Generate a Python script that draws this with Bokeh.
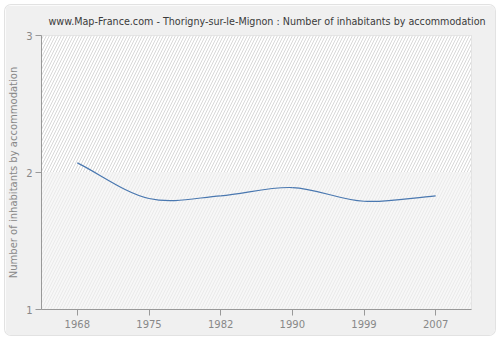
from bokeh.plotting import figure
from bokeh.models import FixedTicker, BoxAnnotation
from bokeh.embed import file_html
from bokeh.resources import INLINE

years = ["1968", "1975", "1982", "1990", "1999", "2007"]
values = [2.07, 1.81, 1.83, 1.89, 1.79, 1.83]
y_ticks = [1, 2, 3]

idx = list(range(len(years)))

p = figure(width=490, height=330, output_backend="svg", toolbar_location=None,
           x_range=(-0.5, len(years) - 0.5), y_range=(1, 3),
           min_border_left=30, min_border_right=24, min_border_top=30, min_border_bottom=26,
           margin=(5, 5, 5, 5))
p.styles = {"border-radius": "6px", "overflow": "hidden", "box-shadow": "0 0 0 1px #e2e2e2"}
p.border_fill_color = "#f0f0f0"
p.background_fill_color = "#fafafa"
p.outline_line_color = "#dddddd"

# background bands with hatch
p.add_layout(BoxAnnotation(bottom=2, top=3, fill_color="#ffffff", fill_alpha=1,
                           hatch_pattern="/", hatch_color="#d8d8d8", hatch_scale=6,
                           hatch_weight=1, line_color=None, level="underlay"))
p.add_layout(BoxAnnotation(bottom=1, top=2, fill_color="#f7f7f7", fill_alpha=1,
                           hatch_pattern="/", hatch_color="#eaeaea", hatch_scale=6,
                           hatch_weight=1, line_color=None, level="underlay"))

# title
p.title.text = "www.Map-France.com - Thorigny-sur-le-Mignon : Number of inhabitants by accommodation"
p.title.text_font = "DejaVu Sans"
p.title.text_font_size = "9.6px"
p.title.text_font_style = "normal"
p.title.text_color = "#3a3a3a"
p.title.align = "left"
p.title.offset = 7
p.title.standoff = 17

# grid
p.xgrid.ticker = FixedTicker(ticks=idx)
p.ygrid.ticker = FixedTicker(ticks=y_ticks)
for g in (p.xgrid, p.ygrid):
    g.grid_line_color = "#e2e2e2"
    g.grid_line_dash = "4 3"
    g.grid_line_width = 1

# axes
p.xaxis.ticker = FixedTicker(ticks=idx)
p.xaxis.major_label_overrides = {i: y for i, y in zip(idx, years)}
p.yaxis.ticker = FixedTicker(ticks=y_ticks)
p.yaxis.axis_label = "Number of inhabitants by accommodation"
for ax in (p.xaxis, p.yaxis):
    ax.axis_line_color = "#999999"
    ax.major_tick_line_color = "#999999"
    ax.major_tick_out = 6
    ax.major_tick_in = 0
    ax.minor_tick_line_color = None
    ax.major_label_text_color = "#888888"
    ax.major_label_text_font = "DejaVu Sans"
    ax.major_label_text_font_size = "10px"
p.yaxis.axis_label_text_color = "#888888"
p.yaxis.axis_label_text_font = "DejaVu Sans"
p.yaxis.axis_label_text_font_size = "10px"
p.yaxis.axis_label_text_font_style = "normal"
p.yaxis.axis_label_standoff = 4
p.xaxis.major_label_standoff = 4
p.yaxis.major_label_standoff = 3

# smooth line through the data (Catmull-Rom Bezier segments)
n = len(values)
m = []
for i in range(n):
    if i == 0:
        m.append(values[1] - values[0])
    elif i == n - 1:
        m.append(values[-1] - values[-2])
    else:
        m.append((values[i + 1] - values[i - 1]) / 2)
x0 = idx[:-1]; x1 = idx[1:]
y0 = values[:-1]; y1 = values[1:]
cx0 = [x + 1 / 3 for x in x0]
cy0 = [values[i] + m[i] / 3 for i in range(n - 1)]
cx1 = [x - 1 / 3 for x in x1]
cy1 = [values[i + 1] - m[i + 1] / 3 for i in range(n - 1)]
p.bezier(x0=x0, y0=y0, x1=x1, y1=y1, cx0=cx0, cy0=cy0, cx1=cx1, cy1=cy1,
         line_color="#4a78b0", line_width=1.2)

open("out.html", "w").write(file_html(p, INLINE))
